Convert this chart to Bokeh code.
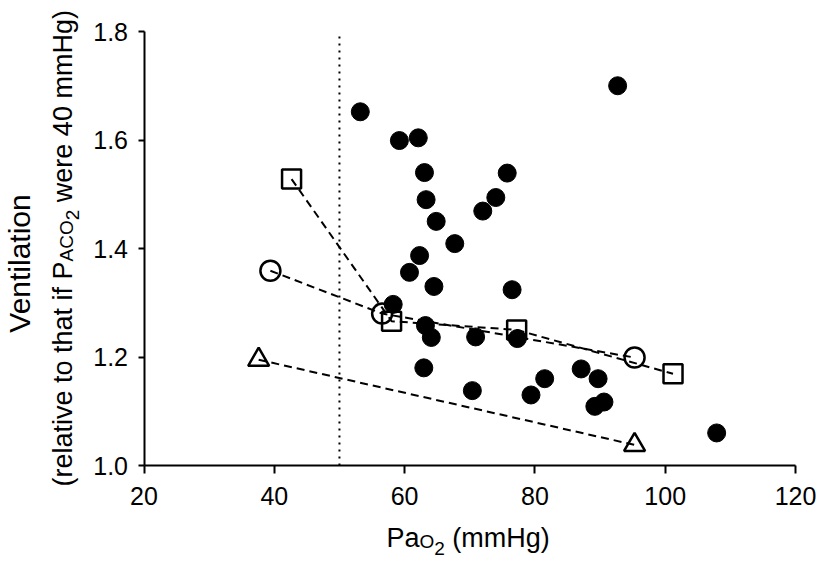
import math
from bokeh.plotting import figure
from bokeh.models import Label, FixedTicker, NumeralTickFormatter, Range1d, LinearAxis
from bokeh.embed import file_html
from bokeh.resources import INLINE

# ---------------- data ----------------
pao2_dots = [53.2, 59.2, 62.1, 63.05, 63.3, 64.85, 67.7, 62.3, 60.75, 64.5, 58.25,
             63.2, 64.1, 62.95, 70.9, 70.4, 72.0, 92.7, 75.75, 74.0, 76.5, 77.3,
             87.1, 81.5, 89.7, 79.4, 90.6, 89.2, 107.9]
vent_dots = [1.652, 1.599, 1.604, 1.540, 1.490, 1.450, 1.409, 1.387, 1.356, 1.330, 1.297,
             1.258, 1.236, 1.180, 1.237, 1.138, 1.469, 1.700, 1.539, 1.494, 1.324, 1.234,
             1.178, 1.160, 1.160, 1.130, 1.117, 1.109, 1.060]

sq_x = [42.65, 58.0, 77.2, 101.2]
sq_y = [1.528, 1.266, 1.250, 1.169]
ci_x = [39.4, 56.55, 95.3]
ci_y = [1.359, 1.280, 1.199]
tr_x = [37.6, 95.3]
tr_y = [1.195, 1.038]

threshold_pao2 = 50
x_ticks = [20, 40, 60, 80, 100, 120]
y_ticks = [1.0, 1.2, 1.4, 1.6, 1.8]

FONT = "Liberation Sans"

# ---------------- geometry (pixels) ----------------
W, H = 819, 567
AX_L, AX_R = 143.5, 795.0   # pixel positions of x = 20 and x = 120
AX_T, AX_B = 31.0, 465.0    # pixel positions of y = 1.8 and y = 1.0

xs = (AX_R - AX_L) / (x_ticks[-1] - x_ticks[0])
ys = (AX_B - AX_T) / (y_ticks[-1] - y_ticks[0])
x_start = x_ticks[0] - AX_L / xs
x_end = x_start + W / xs
y_end = y_ticks[-1] + AX_T / ys
y_start = y_end - H / ys

p = figure(width=W, height=H, output_backend="svg", toolbar_location=None, title=None,
           x_range=Range1d(x_start, x_end), y_range=Range1d(y_start, y_end),
           x_axis_type=None, y_axis_type=None,
           min_border=0, min_border_left=0, min_border_right=0,
           min_border_top=0, min_border_bottom=0)
p.outline_line_color = None
p.grid.visible = False
p.background_fill_color = "white"
p.border_fill_color = "white"

xaxis = LinearAxis(fixed_location=y_ticks[0], bounds=(x_ticks[0], x_ticks[-1]),
                   ticker=FixedTicker(ticks=x_ticks))
yaxis = LinearAxis(fixed_location=x_ticks[0], bounds=(y_ticks[0], y_ticks[-1]),
                   ticker=FixedTicker(ticks=y_ticks),
                   formatter=NumeralTickFormatter(format="0.0"))
for ax in (xaxis, yaxis):
    ax.axis_line_width = 2
    ax.major_tick_line_width = 2
    ax.major_tick_in = 0
    ax.minor_tick_line_color = None
    ax.major_label_text_font = FONT
    ax.major_label_text_font_size = "25px"
    ax.major_label_text_color = "black"
    ax.axis_line_color = "black"
    ax.major_tick_line_color = "black"
xaxis.major_tick_out = 8
yaxis.major_tick_out = 6
xaxis.major_label_standoff = 13
yaxis.major_label_standoff = 10
p.add_layout(xaxis, "below")
p.add_layout(yaxis, "left")

# dotted threshold line
p.segment(x0=[threshold_pao2], y0=[y_ticks[0]], x1=[threshold_pao2], y1=[y_ticks[-1]],
          line_color="black", line_width=2, line_dash="2 5")

dash = "8 5"
p.line(sq_x, sq_y, line_color="black", line_width=2, line_dash=dash)
p.line(ci_x, ci_y, line_color="black", line_width=2, line_dash=dash)
p.line(tr_x, tr_y, line_color="black", line_width=2, line_dash=dash)

p.scatter(sq_x, sq_y, marker="square", size=19, fill_alpha=0, line_color="black", line_width=2.5)
p.scatter(ci_x, ci_y, marker="circle", size=20, fill_alpha=0, line_color="black", line_width=2.5)
p.scatter(tr_x, tr_y, marker="triangle", size=21, fill_alpha=0, line_color="black", line_width=2.5)

p.scatter(pao2_dots, vent_dots, marker="circle", size=18, fill_color="black", line_color="black")

# ---------------- axis titles built from text pieces ----------------
ADV = {' ': 278, '(': 333, ')': 333, 'a': 556, 'e': 556, 'i': 222, 'l': 222, 'r': 333,
       't': 278, 'v': 500, 'h': 556, 'f': 278, 'w': 722, 'm': 833, 'g': 556, 'H': 722,
       'P': 667, 'A': 667, 'C': 722, 'O': 778, '0': 556, '4': 556, '2': 556, 'n': 556,
       'o': 556, 'V': 667}

def tw(s, fs):
    return sum(ADV.get(c, 556) for c in s) / 1000.0 * fs

def put(text, px, py, fs, angle=0.0, align="left"):
    p.add_layout(Label(x=px, y=H - py, x_units="screen", y_units="screen",
                       text=text, angle=angle, text_align=align, text_baseline="alphabetic",
                       text_font=FONT, text_font_size=f"{fs}px", text_color="black"))

# x-axis title: Pa_{O_2} (mmHg)
MX, SX = 27, 19
x0, base = 386, 537
put("Pa", x0, base, MX); x0 += tw("Pa", MX)
put("O", x0, base + 4, SX); x0 += tw("O", SX)
put("2", x0, base + 11, SX); x0 += tw("2", SX) + tw(" ", MX)
put("(mmHg)", x0, base, MX)

# y-axis title, rotated
rot = math.pi / 2
put("Ventilation", 19, 263, 30, angle=rot, align="center")
MY, SY = 27, 19
bx = 62
y0 = 486
seg = "(relative to that if"
put(seg, bx, y0, MY, angle=rot); y0 -= tw(seg + " ", MY)
put("P", bx, y0, MY, angle=rot); y0 -= tw("P", MY)
put("ACO", bx + 4, y0, SY, angle=rot); y0 -= tw("ACO", SY)
put("2", bx + 10, y0, SY, angle=rot); y0 -= tw("2", SY) + tw(" ", MY)
put("were 40 mmHg)", bx, y0, MY, angle=rot)

open("out.html", "w").write(file_html(p, INLINE))
